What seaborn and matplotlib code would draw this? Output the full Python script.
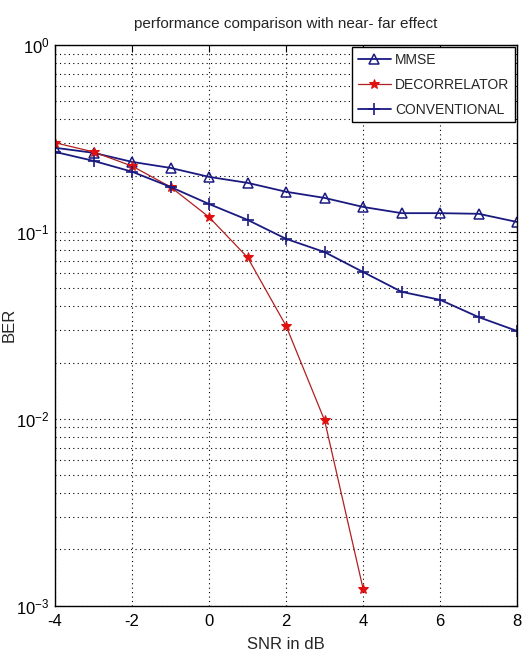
import numpy as np
import pandas as pd
import matplotlib
matplotlib.use("Agg")
import matplotlib.pyplot as plt
import seaborn as sns
from matplotlib.ticker import LogLocator, NullFormatter

# ---- data ----
snr_db = [-4, -3, -2, -1, 0, 1, 2, 3, 4, 5, 6, 7, 8]
ber_mmse = [0.282, 0.265, 0.237, 0.220, 0.197, 0.183, 0.164, 0.152, 0.136, 0.126, 0.126, 0.125, 0.113]
snr_dec = [-4, -3, -2, -1, 0, 1, 2, 3, 4]
ber_decorrelator = [0.300, 0.268, 0.225, 0.174, 0.120, 0.073, 0.0314, 0.0098, 0.00123]
ber_conventional = [0.268, 0.240, 0.210, 0.174, 0.141, 0.116, 0.0918, 0.078, 0.061, 0.0478, 0.0433, 0.035, 0.0295]

sns.set_style("white")
plt.rcParams["font.family"] = ["Liberation Sans", "DejaVu Sans"]
plt.rcParams["mathtext.fontset"] = "custom"
plt.rcParams["mathtext.rm"] = "Liberation Sans"
plt.rcParams["mathtext.it"] = "Liberation Sans"
plt.rcParams["axes.unicode_minus"] = False

navy = "#1a1a80"
red = "#e01010"

fig = plt.figure(figsize=(5.24, 6.62), dpi=100)
ax = fig.add_axes([0.105, 0.085, 0.882, 0.847])

df_mmse = pd.DataFrame({"snr": snr_db, "ber": ber_mmse})
df_dec = pd.DataFrame({"snr": snr_dec, "ber": ber_decorrelator})
df_conv = pd.DataFrame({"snr": snr_db, "ber": ber_conventional})

sns.lineplot(data=df_mmse, x="snr", y="ber", ax=ax, color=navy, lw=1.3,
             marker="^", markersize=6.5, markerfacecolor="none",
             markeredgecolor=navy, markeredgewidth=1.1, label="MMSE")
sns.lineplot(data=df_dec, x="snr", y="ber", ax=ax, color="#b02020", lw=0.9,
             marker="*", markersize=7, markerfacecolor=red,
             markeredgecolor=red, label="DECORRELATOR")
sns.lineplot(data=df_conv, x="snr", y="ber", ax=ax, color=navy, lw=1.3,
             marker="+", markersize=9, markeredgecolor=navy,
             markeredgewidth=1.2, label="CONVENTIONAL")

ax.set_yscale("log")
ax.set_xlim(-4, 8)
ax.set_ylim(1e-3, 1)
ax.set_xticks([-4, -2, 0, 2, 4, 6, 8])
ax.set_xticklabels(["-4", "-2", "0", "2", "4", "6", "8"])
ax.yaxis.set_major_locator(LogLocator(base=10))
ax.yaxis.set_minor_locator(LogLocator(base=10, subs=np.arange(2, 10)))
ax.yaxis.set_minor_formatter(NullFormatter())

ax.grid(True, which="major", axis="both", color="black", linestyle=(0, (1, 3)), lw=0.8)
ax.grid(True, which="minor", axis="y", color="black", linestyle=(0, (1, 3)), lw=0.8)

ax.tick_params(axis="both", which="both", direction="in", top=True, right=True,
               labelsize=12, colors="black")
ax.tick_params(axis="x", pad=6)
ax.tick_params(axis="y", pad=4)
ax.tick_params(which="major", length=5)
ax.tick_params(which="minor", length=3)
for s in ax.spines.values():
    s.set_color("black")
    s.set_linewidth(1.0)

ax.set_xlabel("SNR in dB", fontsize=12, labelpad=6)
ax.set_ylabel("BER", fontsize=12)
ax.yaxis.set_label_coords(-0.082, 0.5)
ax.set_title("performance comparison with near- far effect", fontsize=11, pad=12)

leg = ax.legend(loc="upper right", fancybox=False, framealpha=1, edgecolor="black",
                fontsize=10, borderaxespad=0.15, handlelength=2.4, labelspacing=0.8,
                handletextpad=0.3)
leg.get_frame().set_linewidth(1.0)

fig.savefig("out.png", dpi=100)
